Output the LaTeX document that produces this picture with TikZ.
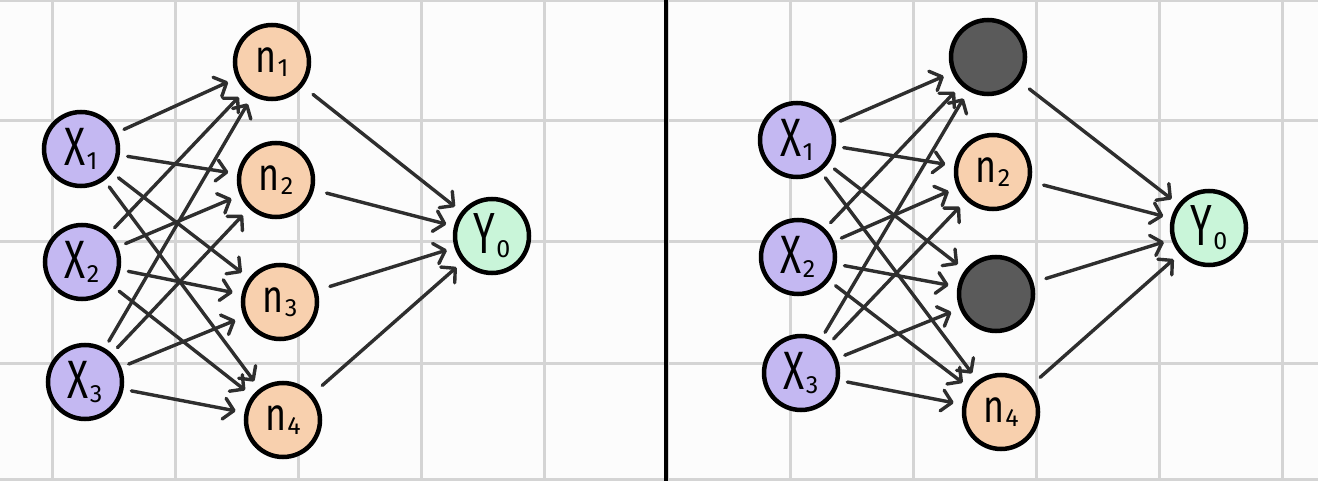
\documentclass[tikz,border=0pt]{standalone}
\usepackage{fontspec}
\setmainfont{Fira Sans}
\usetikzlibrary{arrows.meta}
\definecolor{xcol}{HTML}{C4B8F2}
\definecolor{ncol}{HTML}{F8D0AE}
\definecolor{ycol}{HTML}{C9F5D9}
\definecolor{gcol}{HTML}{5A5A5A}
\definecolor{gridcol}{HTML}{D4D4D4}
\definecolor{arrcol}{HTML}{2E2E2E}
\definecolor{bgcol}{HTML}{FCFCFC}
% #1 main glyph (already sized), #2 subscript
\newcommand\nlab[2]{#1\kern1pt\raisebox{-4pt}{\fontsize{25}{25}\selectfont #2}}
\newcommand\XX{\scalebox{0.72}[1]{\fontsize{54}{54}\selectfont X}}
\newcommand\nn{\scalebox{0.78}[1]{\fontsize{46}{46}\selectfont n}}
\newcommand\YY{\scalebox{0.68}[1]{\fontsize{58}{58}\selectfont Y}}
\begin{document}
\begin{tikzpicture}[x=1pt,y=-1pt,
  neuron/.style={circle,draw=black,line width=4.5pt,minimum size=74pt,inner sep=0pt},
  inp/.style={neuron,fill=xcol},
  hid/.style={neuron,fill=ncol},
  outn/.style={neuron,fill=ycol},
  drop/.style={neuron,fill=gcol},
  gridline/.style={draw=gridcol,line width=3pt},
  conn/.style={draw=arrcol,line width=3.4pt,line cap=round,
    -{Straight Barb[length=10pt,width=21pt,line cap=round,line join=round]}},
  inconn/.style={conn,shorten <=8pt,shorten >=9pt},
  outconn/.style={conn,shorten <=13pt,shorten >=8pt}]
\fill[bgcol] (0,0) rectangle (1318,481);
\useasboundingbox (0,0) rectangle (1318,481);
% grid
\foreach \gx in {52,175,298,421,544,667,790,913,1036,1159,1282}
  \draw[gridline] (\gx,0) -- (\gx,481);
\foreach \gy in {1,121,242,363,479.5}
  \draw[gridline] (0,\gy) -- (1318,\gy);
% divider
\draw[black,line width=4.5pt] (666,0) -- (666,481);
% left network
\node[inp] (lx1) at (81,149) {\nlab{\XX}{1}};
\node[inp] (lx2) at (82,262) {\nlab{\XX}{2}};
\node[inp] (lx3) at (85,382) {\nlab{\XX}{3}};
\node[hid] (ln1) at (272,62) {\nlab{\nn}{1}};
\node[hid] (ln2) at (276,180) {\nlab{\nn}{2}};
\node[hid] (ln3) at (280,302) {\nlab{\nn}{3}};
\node[hid] (ln4) at (283,420) {\nlab{\nn}{4}};
\node[outn] (ly) at (492,236) {\nlab{\YY}{0}};
% right network
\node[inp] (rx1) at (797,140) {\nlab{\XX}{1}};
\node[inp] (rx2) at (798,257) {\nlab{\XX}{2}};
\node[inp] (rx3) at (801,373) {\nlab{\XX}{3}};
\node[drop] (rn1) at (988,57) {};
\node[hid] (rn2) at (993,172) {\nlab{\nn}{2}};
\node[drop] (rn3) at (996,294) {};
\node[hid] (rn4) at (1001,412) {\nlab{\nn}{4}};
\node[outn] (ry) at (1209,228) {\nlab{\YY}{0}};
% connectors
\foreach \s in {l,r}{
  \foreach \i in {1,2,3}{
    \foreach \j in {1,2,3,4}{
      \draw[inconn] (\s x\i) -- (\s n\j);
    }
  }
  \foreach \j in {1,2,3,4}{
    \draw[outconn] (\s n\j) -- (\s y);
  }
}
\end{tikzpicture}
\end{document}
